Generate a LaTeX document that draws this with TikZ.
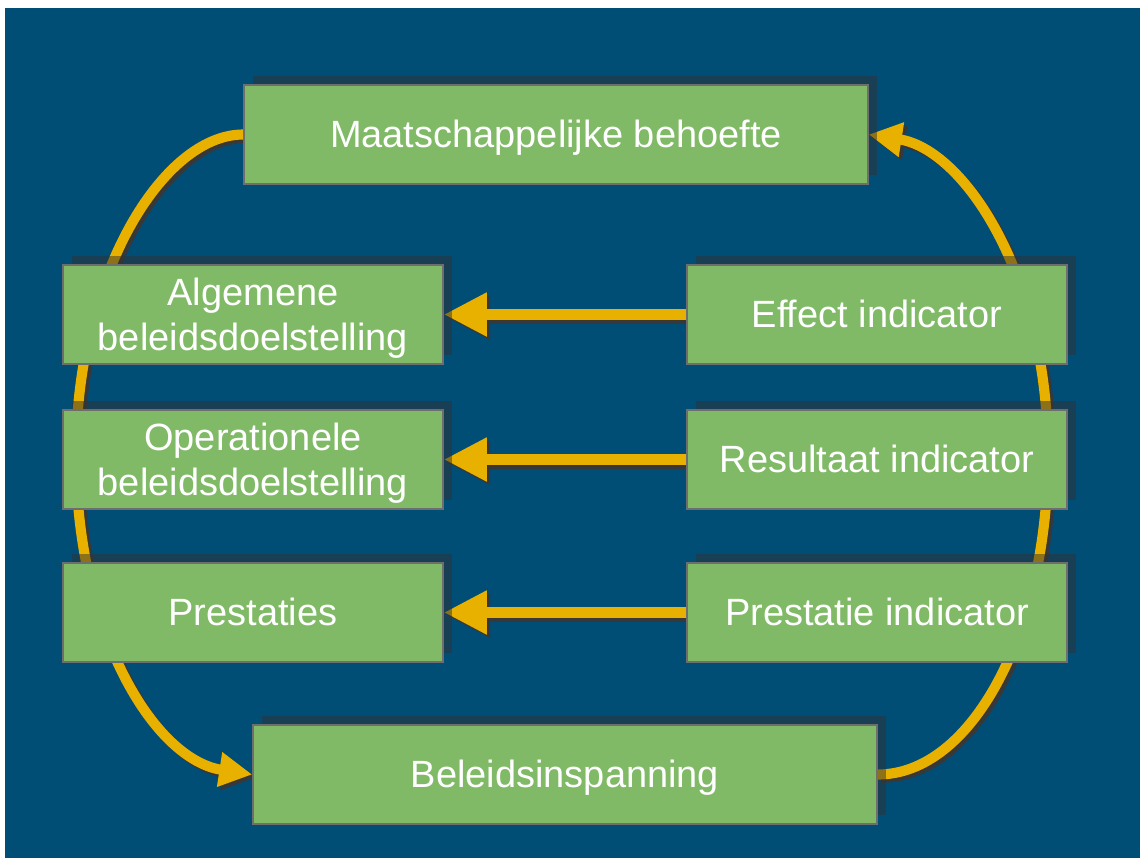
\documentclass[tikz,border=0pt]{standalone}
\usepackage{fontspec}
\setmainfont{Liberation Sans}
\usetikzlibrary{arrows.meta,shadows}
\definecolor{bgblue}{HTML}{004D76}
\definecolor{boxgreen}{HTML}{80BA66}
\definecolor{boxline}{HTML}{6E6E6E}
\definecolor{loopyellow}{HTML}{E8B100}
\definecolor{arrowshade}{HTML}{383838}
\definecolor{boxshade}{HTML}{333333}
\pgfdeclarelayer{bg}
\pgfdeclarelayer{arrows}
\pgfsetlayers{bg,arrows,main}

% colour of the connectors currently being drawn
\def\linkcol{loopyellow}

\begin{document}
\begin{tikzpicture}[x=0.025cm,y=-0.025cm,
  box/.style={draw=boxline, line width=1pt, fill=boxgreen, text=white,
    inner sep=0pt, align=center, minimum height=2.475cm,
    text height=24.4pt, text depth=5.7pt,
    font=\fontsize{27pt}{32pt}\selectfont,
    drop shadow={shadow xshift=0.225cm, shadow yshift=0.225cm,
      fill=boxshade, opacity=0.5}},
  twoline/.style={text height=56.4pt},
  sidebox/.style={box, minimum width=9.5cm},
  widebox/.style={box, minimum width=15.6cm},
  flow/.style={draw=\linkcol, line width=7.2pt,
    -{Triangle[length=23.5pt,width=23.5pt]}},
  link/.style={draw=\linkcol, line width=8.5pt,
    -{Triangle[length=30.6pt,width=29.2pt]}}
]
\useasboundingbox (0,0) rectangle (1140,858);

% page and panel
\begin{pgfonlayer}{bg}
  \fill[white] (0,0) rectangle (1140,858);
  \fill[bgblue] (5,8) rectangle (1140,858);
\end{pgfonlayer}

% boxes
\node[widebox] (maat) at (556,134.5) {Maatschappelijke behoefte};
\node[sidebox, twoline] (alg) at (253,314.5) {Algemene\\beleidsdoelstelling};
\node[sidebox] (eff) at (877,314.5) {Effect indicator};
\node[sidebox, twoline] (ope) at (253,459.5) {Operationele\\beleidsdoelstelling};
\node[sidebox] (res) at (877,459.5) {Resultaat indicator};
\node[sidebox] (pre) at (253,612.5) {Prestaties};
\node[sidebox] (pri) at (877,612.5) {Prestatie indicator};
\node[widebox] (bel) at (565,774.5) {Beleidsinspanning};

% turning points of the loop
\coordinate (lmid) at (76,455);
\coordinate (rmid) at (1048,455);

% all connectors, drawn once as a shadow and once in yellow
\newcommand{\allconnectors}{%
  \path[flow] (maat.west) .. controls +(-80,0) and +(0,-180) .. (lmid)
              .. controls +(0,177) and +(-98,-15) .. (bel.west);
  \path[flow] (bel.east) .. controls +(94,0) and +(0,177) .. (rmid)
              .. controls +(0,-180) and +(95,15) .. (maat.east);
  \path[link] (eff.west) -- (alg.east);
  \path[link] (res.west) -- (ope.east);
  \path[link] (pri.west) -- (pre.east);
}

\begin{pgfonlayer}{arrows}
  \begin{scope}[transform canvas={xshift=2.3pt,yshift=-2.3pt}]
    \def\linkcol{arrowshade}
    \allconnectors
  \end{scope}
  \allconnectors
\end{pgfonlayer}
\end{tikzpicture}
\end{document}
